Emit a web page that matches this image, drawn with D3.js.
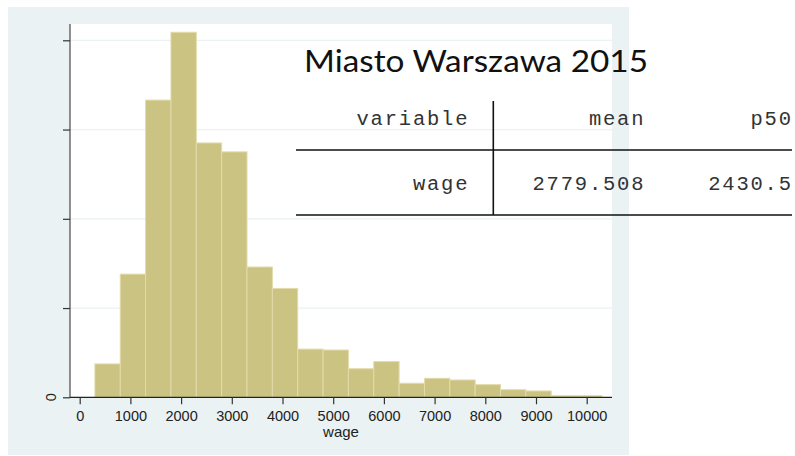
<!DOCTYPE html>
<html>
<head>
<meta charset="utf-8">
<script src="https://cdn.jsdelivr.net/npm/d3@7"></script>
<style>
  body { margin: 0; background: #fff; }
  svg { display: block; }
</style>
</head>
<body>
<svg width="795" height="456"></svg>
<script>
// histogram bins (wage, width 500) and density heights
const binStart = [300, 800, 1300, 1800, 2300, 2800, 3300, 3800, 4300, 4800,
                  5300, 5800, 6300, 6800, 7300, 7800, 8300, 8800, 9300, 9800];
const binWidth = 500;
const density  = [0.0000374, 0.000138, 0.000333, 0.000409, 0.000285, 0.000275,
                  0.000146, 0.000122, 0.000054, 0.000053, 0.000032, 0.000040,
                  0.0000157, 0.0000213, 0.0000194, 0.0000142, 0.0000085,
                  0.0000071, 0.0000018, 0.0000018];
const xTicks = [0, 1000, 2000, 3000, 4000, 5000, 6000, 7000, 8000, 9000, 10000];
const yTicks = [0, 0.0001, 0.0002, 0.0003, 0.0004];

// table overlay
const title = "Miasto Warszawa 2015";
const tableHead = ["variable", "mean", "p50"];
const tableRow  = ["wage", "2779.508", "2430.5"];

const svg = d3.select("svg");

// outer graph panel
svg.append("rect")
    .attr("x", 8).attr("y", 7)
    .attr("width", 621).attr("height", 448)
    .attr("fill", "#eaf2f3");

// plot region
svg.append("rect")
    .attr("x", 70).attr("y", 24)
    .attr("width", 542).attr("height", 373.3)
    .attr("fill", "#ffffff");

const x = d3.scaleLinear().domain([0, 10000]).range([79.7, 586.7]);
const y = d3.scaleLinear().domain([0, 0.0004]).range([397.3, 40.3]);

// gridlines
svg.append("g")
    .selectAll("line")
    .data(yTicks.slice(1))
    .enter()
    .append("line")
    .attr("x1", 70).attr("x2", 612)
    .attr("y1", d => y(d)).attr("y2", d => y(d))
    .attr("stroke", "#eaf2f3")
    .attr("stroke-width", 1.2);

// bars
svg.append("g")
    .selectAll("rect")
    .data(binStart)
    .enter()
    .append("rect")
    .attr("x", d => x(d))
    .attr("y", (d, i) => y(density[i]))
    .attr("width", d => x(d + binWidth) - x(d))
    .attr("height", (d, i) => y(0) - y(density[i]))
    .attr("fill", "#cbc381")
    .attr("stroke", "#e2dbab")
    .attr("stroke-width", 1);

// y axis
const yAxis = svg.append("g")
    .attr("transform", "translate(70,0)")
    .call(d3.axisLeft(y).tickValues(yTicks).tickSize(7).tickFormat(""));
yAxis.select(".domain").attr("d", "M0,24V397.3").attr("stroke", "#555").attr("stroke-width", 1.3);
yAxis.selectAll(".tick line").attr("stroke", "#333").attr("stroke-width", 1.2);

svg.append("text")
    .attr("transform", `translate(56,${y(0)}) rotate(-90)`)
    .attr("text-anchor", "middle")
    .attr("font-family", "Liberation Sans, Arial, sans-serif")
    .attr("font-size", 14.5)
    .attr("fill", "#222")
    .text("0");

// x axis
const xAxis = svg.append("g")
    .attr("transform", `translate(0,${y(0)})`)
    .call(d3.axisBottom(x).tickValues(xTicks).tickSize(7).tickPadding(6).tickFormat(d3.format("d")));
xAxis.select(".domain").attr("d", "M70,0H612").attr("stroke", "#222").attr("stroke-width", 1.3);
xAxis.selectAll(".tick line").attr("stroke", "#333").attr("stroke-width", 1.2);
xAxis.selectAll(".tick text")
    .attr("font-family", "Liberation Sans, Arial, sans-serif")
    .attr("font-size", 14.5)
    .attr("fill", "#222");

svg.append("text")
    .attr("x", 341).attr("y", 437)
    .attr("text-anchor", "middle")
    .attr("font-family", "Liberation Sans, Arial, sans-serif")
    .attr("font-size", 15)
    .attr("fill", "#222")
    .text("wage");

// title over the chart
svg.append("text")
    .attr("x", 304).attr("y", 72)
    .attr("font-family", "Lato, sans-serif")
    .attr("font-size", 30)
    .attr("textLength", 344)
    .attr("lengthAdjust", "spacingAndGlyphs")
    .attr("fill", "#111")
    .text(title);

// summary table
const colRight = [467.5, 643.5, 791];
const mono = "Liberation Mono, Courier New, monospace";
const monoSize = 20.5;
const spacing = 14.1 - monoSize * 0.6;

function tableLine(values, baseline) {
    svg.append("g")
        .selectAll("text")
        .data(values)
        .enter()
        .append("text")
        .attr("x", (d, i) => colRight[i] + spacing)
        .attr("y", baseline)
        .attr("text-anchor", "end")
        .attr("font-family", mono)
        .attr("font-size", monoSize)
        .attr("letter-spacing", spacing)
        .attr("fill", "#333")
        .text(d => d);
}
tableLine(tableHead, 125);
tableLine(tableRow, 189.5);

[150, 215].forEach(yy => {
    svg.append("line")
        .attr("x1", 296).attr("x2", 792)
        .attr("y1", yy).attr("y2", yy)
        .attr("stroke", "#111").attr("stroke-width", 1.6);
});
svg.append("line")
    .attr("x1", 493.3).attr("x2", 493.3)
    .attr("y1", 101).attr("y2", 215)
    .attr("stroke", "#111").attr("stroke-width", 1.6);
</script>
</body>
</html>
